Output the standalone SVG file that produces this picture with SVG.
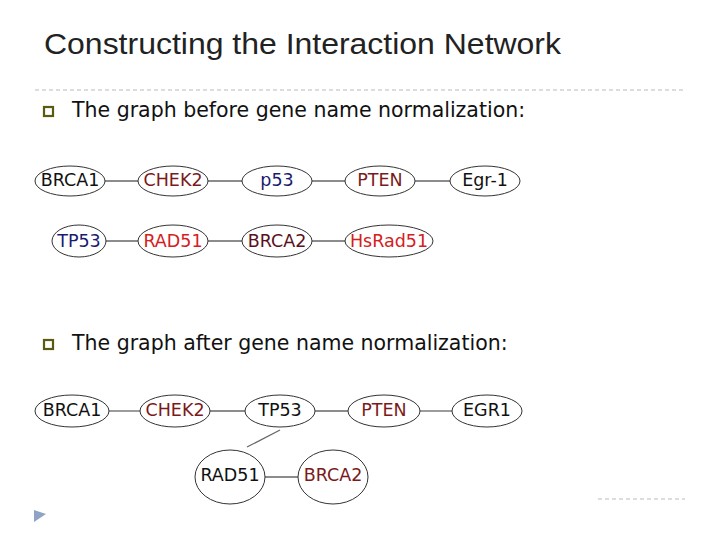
<svg xmlns="http://www.w3.org/2000/svg" width="720" height="540" viewBox="0 0 720 540">
<style>
.n ellipse{fill:#fff;stroke:#333;stroke-width:1}
.n text{font-family:"DejaVu Sans",sans-serif;font-size:17.5px;text-anchor:middle;dominant-baseline:central}
.e line{stroke:#666;stroke-width:1.3}
.h{font-family:"DejaVu Sans",sans-serif;font-size:20.5px;fill:#111}
</style>
<rect width="720" height="540" fill="#fff"/>
<text x="44" y="54" font-family="Liberation Sans,sans-serif" font-size="29" fill="#222" textLength="517" lengthAdjust="spacingAndGlyphs">Constructing the Interaction Network</text>
<line x1="35" y1="90" x2="685" y2="90" stroke="#bbb" stroke-dasharray="4,3"/>
<line x1="598" y1="499" x2="685" y2="499" stroke="#bbb" stroke-dasharray="4,3"/>
<polygon points="34,510 46,514 34,522" fill="#8fa3c6"/>
<rect x="44" y="107" width="9" height="9" fill="none" stroke="#5a5a12" stroke-width="2.2"/>
<text class="h" x="72" y="117">The graph before gene name normalization:</text>
<rect x="44" y="340" width="9" height="9" fill="none" stroke="#5a5a12" stroke-width="2.2"/>
<text class="h" x="72" y="350">The graph after gene name normalization:</text>
<g class="e">
<line x1="105" y1="181" x2="138" y2="181"/><line x1="208" y1="181" x2="242" y2="181"/><line x1="312" y1="181" x2="345" y2="181"/><line x1="415" y1="181" x2="450" y2="181"/>
<line x1="105" y1="241" x2="138" y2="241"/><line x1="208" y1="241" x2="242" y2="241"/><line x1="312" y1="241" x2="345" y2="241"/>
<line x1="109" y1="411" x2="140" y2="411"/><line x1="210" y1="411" x2="245" y2="411"/><line x1="315" y1="411" x2="348" y2="411"/><line x1="420" y1="411" x2="452" y2="411"/>
<line x1="280" y1="430" x2="247" y2="447"/><line x1="265" y1="477" x2="298" y2="477"/>
</g>
<g id="b-brca1" class="n"><ellipse cx="70" cy="181" rx="35" ry="15"/><text x="70" y="180" fill="#111">BRCA1</text></g>
<g id="b-chek2" class="n"><ellipse cx="173" cy="181" rx="35" ry="15"/><text x="173" y="180" fill="#7a1a1a">CHEK2</text></g>
<g id="b-p53" class="n"><ellipse cx="277" cy="181" rx="35" ry="15"/><text x="277" y="180" fill="#1a1a70">p53</text></g>
<g id="b-pten" class="n"><ellipse cx="380" cy="181" rx="35" ry="15"/><text x="380" y="180" fill="#7a1a1a">PTEN</text></g>
<g id="b-egr1" class="n"><ellipse cx="485" cy="181" rx="35" ry="15"/><text x="485" y="180" fill="#111">Egr-1</text></g>
<g id="b-tp53" class="n"><ellipse cx="79" cy="241" rx="27" ry="16"/><text x="79" y="241" fill="#1a1a70">TP53</text></g>
<g id="b-rad51" class="n"><ellipse cx="173" cy="241" rx="35" ry="16"/><text x="173" y="241" fill="#d42020">RAD51</text></g>
<g id="b-brca2" class="n"><ellipse cx="277" cy="241" rx="35" ry="16"/><text x="277" y="241" fill="#5a1020">BRCA2</text></g>
<g id="b-hsrad51" class="n"><ellipse cx="389" cy="241" rx="44" ry="16"/><text x="389" y="241" fill="#d42020">HsRad51</text></g>
<g id="a-brca1" class="n"><ellipse cx="72" cy="411" rx="37" ry="16"/><text x="72" y="410" fill="#111">BRCA1</text></g>
<g id="a-chek2" class="n"><ellipse cx="175" cy="411" rx="35" ry="16"/><text x="175" y="410" fill="#7a1a1a">CHEK2</text></g>
<g id="a-tp53" class="n"><ellipse cx="280" cy="411" rx="35" ry="16"/><text x="280" y="410" fill="#111">TP53</text></g>
<g id="a-pten" class="n"><ellipse cx="384" cy="411" rx="36" ry="16"/><text x="384" y="410" fill="#7a1a1a">PTEN</text></g>
<g id="a-egr1" class="n"><ellipse cx="487" cy="411" rx="35" ry="16"/><text x="487" y="410" fill="#111">EGR1</text></g>
<g id="a-rad51" class="n"><ellipse cx="230" cy="477" rx="35" ry="27"/><text x="230" y="475" fill="#111">RAD51</text></g>
<g id="a-brca2" class="n"><ellipse cx="333" cy="477" rx="35" ry="27"/><text x="333" y="475" fill="#7a1a1a">BRCA2</text></g>
</svg>
